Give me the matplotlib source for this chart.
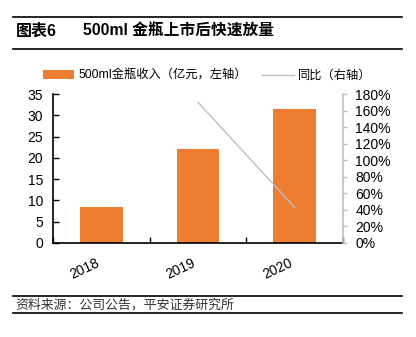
import matplotlib
matplotlib.use("Agg")
import matplotlib.pyplot as plt
from matplotlib.lines import Line2D

plt.rcParams['font.family'] = ['Liberation Sans', 'Noto Sans CJK SC', 'DejaVu Sans']

years = ['2018', '2019', '2020']
revenue = [8.4, 22.0, 31.4]          # 亿元
yoy_years = ['2019', '2020']
yoy = [1.70, 0.43]                   # 同比

title_no = '图表6'
title = '500ml 金瓶上市后快速放量'
bar_label = '500ml金瓶收入（亿元，左轴）'
line_label = '同比（右轴）'
source = '资料来源：公司公告，平安证券研究所'

ORANGE = '#ED7D31'
GRAY = '#BFBFBF'

W, H = 416, 337
fig = plt.figure(figsize=(W / 100, H / 100), dpi=100)

def fx(px):
    return px / W

def fy(py):
    return 1 - py / H

# header and footer rules
for y in (17, 49, 296, 313):
    fig.add_artist(Line2D([fx(13), fx(402)], [fy(y), fy(y)], color='black', lw=1.2))

fig.text(fx(16), fy(31), title_no, fontsize=11.5, fontweight='bold', va='center', ha='left')
fig.text(fx(83), fy(31), title, fontsize=11.3, fontweight='bold', va='center', ha='left')
fig.text(fx(15), fy(305), source, fontsize=9.3, color='#333333', va='center', ha='left', style='italic')

ax = fig.add_axes([fx(53), fy(243), fx(343) - fx(53), fy(94) - fy(243)])
x = list(range(len(years)))
bars = ax.bar(x, revenue, width=0.44, color=ORANGE, label=bar_label, zorder=2)
ax.set_xlim(-0.5, 2.5)
ax.set_ylim(0, 35)
ax.set_yticks(range(0, 36, 5))
ax.set_xticks(x)
ax.set_xticklabels(years, rotation=25, ha='right', fontsize=10)
ax.set_xticks([-0.5, 0.5, 1.5, 2.5], minor=True)
ax.tick_params(axis='x', which='major', length=0, pad=9)
ax.tick_params(axis='x', which='minor', direction='in', length=4, width=1, color='black')
ax.tick_params(axis='y', direction='in', length=4, width=1, labelsize=10, pad=7)
for s in ('top', 'right'):
    ax.spines[s].set_visible(False)
ax.spines['left'].set_linewidth(1.2)
ax.spines['bottom'].set_linewidth(1.2)

ax2 = ax.twinx()
xi = [years.index(y) for y in yoy_years]
line, = ax2.plot(xi, yoy, color=GRAY, lw=1.0, label=line_label, zorder=3)
ax2.set_ylim(0, 1.8)
ax2.set_yticks([i / 10 for i in range(0, 19, 2)])
ax2.set_yticklabels([f'{int(round(v * 100))}%' for v in ax2.get_yticks()])
ax2.tick_params(axis='y', direction='out', length=3, width=1, color=GRAY, labelsize=10, pad=6)
for s in ('top', 'left', 'bottom'):
    ax2.spines[s].set_visible(False)
ax2.spines['right'].set_color(GRAY)
ax2.spines['right'].set_linewidth(1.2)

fig.legend(handles=[bars, line], labels=[bar_label, line_label], ncol=2,
           loc='center', bbox_to_anchor=(fx(207), fy(76)), frameon=False,
           fontsize=8.8, handlelength=2.6, handleheight=0.7, handletextpad=0.35,
           columnspacing=1.2, borderaxespad=0)

fig.savefig('out.png', dpi=100)
